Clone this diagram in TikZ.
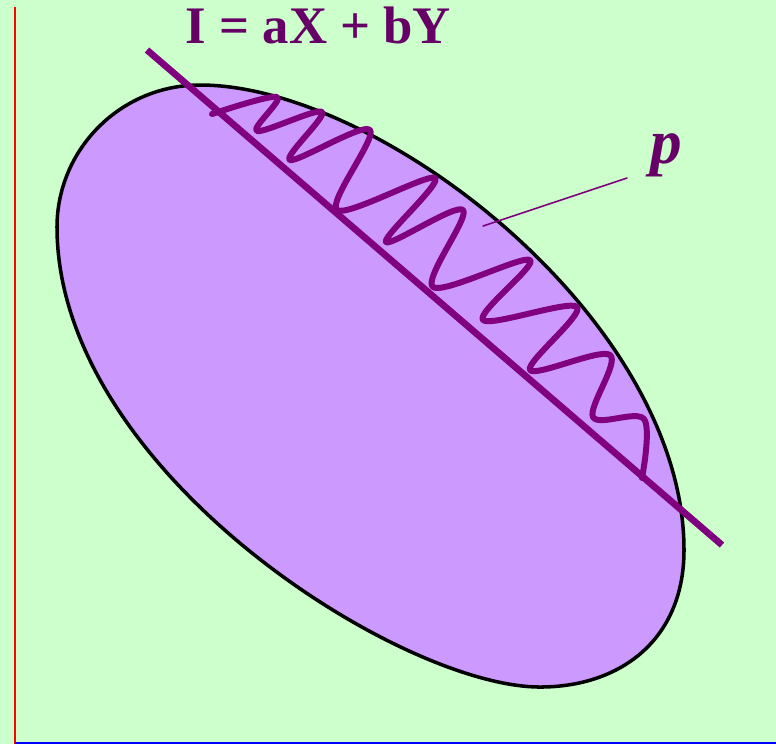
\documentclass[tikz,border=0pt]{standalone}
\usepackage{fontspec}
\setmainfont{Liberation Serif}
\definecolor{paleground}{HTML}{CCFFCC}
\definecolor{blobfill}{HTML}{CC99FF}
\definecolor{linepurple}{HTML}{800080}
\definecolor{textpurple}{HTML}{660066}
\begin{document}
\begin{tikzpicture}[x=0.01cm,y=-0.01cm,line cap=round,line join=round]
  \fill[paleground] (0,0) rectangle (776,744);
  \useasboundingbox (0,0) rectangle (776,744);
  \coordinate (L1) at (147,50);
  \coordinate (L2) at (722,545);
  \coordinate (T) at (483,226);
  \coordinate (E) at (627,178);
  \draw[red,line width=0.45pt,line cap=butt] (15,7) -- (15,744);
  \draw[blue,line width=0.5pt,line cap=butt] (15,743) -- (776,743);
  \draw[line width=1pt,fill=blobfill]
    (200,85) .. controls (380,85) and (684,320) .. (684,550)
    .. controls (684,640) and (620,687) .. (540,687)
    .. controls (400,687) and (57,470) .. (57,227)
    .. controls (57,150) and (120,85) .. (200,85) -- cycle;
  \draw[linepurple,line width=1.7pt] plot[smooth,tension=0.55] coordinates {
    (212,114) (277,97) (257,131) (322,112) (290,160) (370,130) (337,210)
    (435,178) (386,242) (463,210) (433,287) (530,260) (483,320) (577,307)
    (530,370) (610,355) (593,417) (644,419) (642,478)};
  \draw[linepurple,line width=1.9pt,line cap=butt] (L1) -- (L2);
  \draw[linepurple,line width=0.45pt] (T) -- (E);
  \node[anchor=base west,inner sep=0pt,text=textpurple,font=\fontsize{15}{18}\selectfont\bfseries] (title) at (185,43) {I = aX + bY};
  \node[anchor=base west,inner sep=0pt,text=textpurple,font=\fontsize{18}{22}\selectfont\bfseries\itshape] (plabel) at (650,163) {p};
\end{tikzpicture}
\end{document}
